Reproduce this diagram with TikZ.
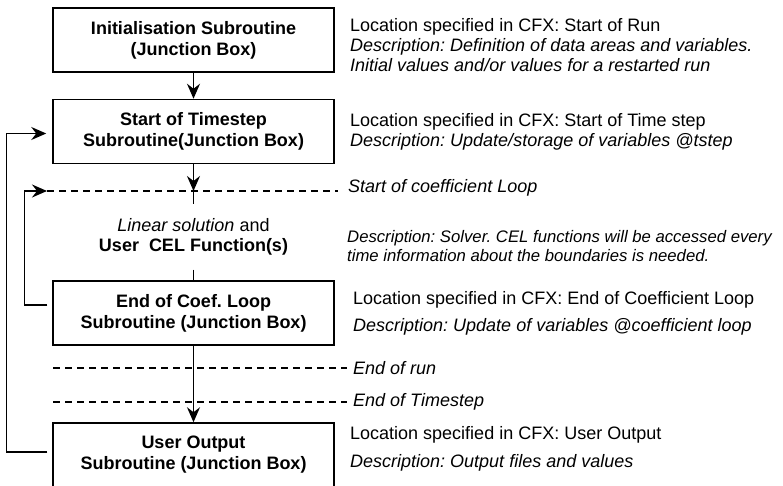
\documentclass[tikz,border=0pt]{standalone}
\usepackage{fontspec}
\setmainfont{Liberation Sans}
\frenchspacing
\usetikzlibrary{arrows.meta}
\usetikzlibrary{positioning}

\begin{document}
\begin{tikzpicture}[
        x=1pt,y=-1pt,
        BoxCfg/.style={
            draw,
            line width=1.5pt,
            minimum width=281pt,
            minimum height=64pt,
            align=center,
            font=\bfseries\fontsize{18}{21}\selectfont
        },
        TxtCfg/.style={
            anchor=west,
            align=left,
            inner sep=0pt,
            font=\fontsize{18}{20}\selectfont
        },
        LineCfg/.style={line width=1.5pt},
        ArrowCfg/.style={LineCfg,-{Stealth[length=15pt,width=13pt,inset=5pt]}},
        DashCfg/.style={line width=1.2pt,dash pattern=on 7pt off 5pt}
    ]

    \useasboundingbox (0,0) rectangle (783,486);
    \clip (0,0) rectangle (783,486);

    %subroutine boxes
    \node[BoxCfg] (Init) at (193.5,40) {Initialisation Subroutine\\(Junction Box)};
    \node[BoxCfg] (TStep) at (193.5,131.5) {Start of Timestep\\Subroutine(Junction Box)};
    \node[align=center,inner xsep=4pt,inner ysep=14pt,font=\fontsize{18}{20}\selectfont] (Cel) at (193.5,237) {\textit{Linear solution} and\\\textbf{User\ \ CEL Function(s)}};
    \node[BoxCfg] (CoefEnd) at (193.5,313) {End of Coef. Loop\\Subroutine (Junction Box)};
    \node[BoxCfg] (Output) at (193.5,455) {User Output\\Subroutine (Junction Box)};

    %dashed levels
    \coordinate (LoopA) at (47,191);
    \coordinate (LoopB) at (338,191);
    \coordinate (RunA) at (53,368);
    \coordinate (RunB) at (347,368);
    \coordinate (StepA) at (53,402);
    \coordinate (StepB) at (347,402);

    %connections
    \draw[LineCfg] (TStep) -- (Cel);
    \draw[ArrowCfg] (Init) -- (TStep);
    \draw[ArrowCfg] (TStep) -- (TStep |- LoopA);
    \draw[LineCfg] (Cel) -- (CoefEnd);
    \draw[ArrowCfg] (CoefEnd) -- (Output);
    \draw[ArrowCfg] ([xshift=-5pt,yshift=8pt]CoefEnd.west) -- ++(-23,0) |- (LoopA);
    \draw[ArrowCfg] ([xshift=-5pt,yshift=3pt]Output.west) -- ++(-41,0) |- ([xshift=-6pt,yshift=-2pt]TStep.west);

    \draw[DashCfg] (LoopA) -- (LoopB);
    \draw[DashCfg] (RunA) -- (RunB);
    \draw[DashCfg] (StepA) -- (StepB);

    %descriptions
    \node[TxtCfg] (InitTxt) at (350,45) {Location specified in CFX: Start of Run\\\textit{Description: Definition of data areas and variables.}\\\textit{Initial values and/or values for a restarted run}};
    \node[TxtCfg] (TStepTxt) at (350,132) {Location specified in CFX: Start of Time step\\\textit{Description: Update/storage of variables @tstep}};
    \node[TxtCfg,right=10pt of LoopB,yshift=3pt] (LoopTxt) {\textit{Start of coefficient Loop}};
    \node[TxtCfg,font=\fontsize{16.7}{19}\selectfont] (CelTxt) at (347,246) {\textit{Description: Solver. CEL functions will be accessed every}\\\textit{time information about the boundaries is needed.}};
    \node[TxtCfg] (CoefTxt) at (353,313) {Location specified in CFX: End of Coefficient Loop\\[7pt]\textit{Description: Update of variables @coefficient loop}};
    \node[TxtCfg,right=6pt of RunB] (RunTxt) {\textit{End of run}};
    \node[TxtCfg,right=6pt of StepB] (StepTxt) {\textit{End of Timestep}};
    \node[TxtCfg] (OutTxt) at (350,449) {Location specified in CFX: User Output\\[8pt]\textit{Description: Output files and values}};

\end{tikzpicture}
\end{document}
